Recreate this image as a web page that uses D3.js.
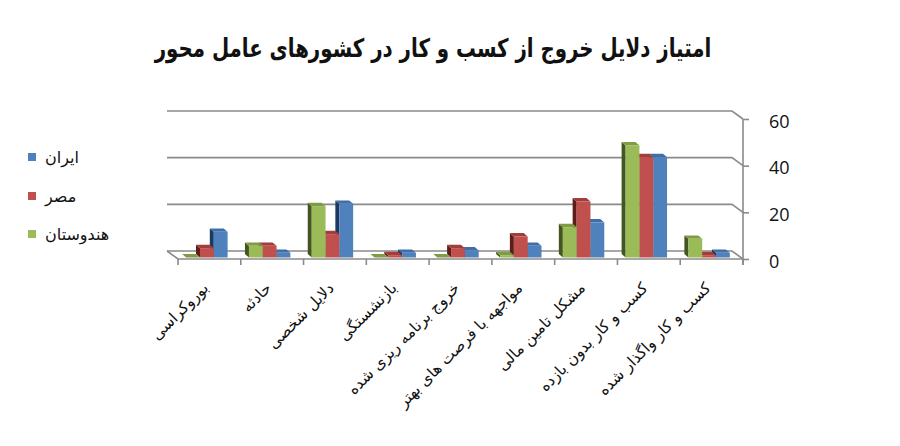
<!DOCTYPE html>
<html>
<head>
<meta charset="utf-8">
<script src="https://cdn.jsdelivr.net/npm/d3@7/dist/d3.min.js"></script>
<style>
  body { margin: 0; background: #fff; }
  svg { display: block; }
</style>
</head>
<body>
<svg id="chart" width="900" height="446"></svg>
<script>
// chart data, categories read left to right
const categories = [
    'بوروکراسی',
    'حادثه',
    'دلایل شخصی',
    'بازنشستگی',
    'خروج برنامه ریزی شده',
    'مواجهه با فرصت های بهتر',
    'مشکل تامین مالی',
    'کسب و کار بدون بازده',
    'کسب و کار واگذار شده'
];
const seriesNames = ['هندوستان', 'مصر', 'ایران'];
const indiaValues = [0, 5, 22, 0, 0, 1, 13, 48, 8];
const egyptValues = [4, 5, 10, 1, 4, 9, 24, 43, 1];
const iranValues = [11, 2, 23, 2, 3, 5, 15, 43, 2];
const yTickValues = [0, 20, 40, 60];
const legendOrder = ['ایران', 'مصر', 'هندوستان'];
const title = 'امتیاز دلایل خروج از کسب و کار در کشورهای عامل محور';

const colors = {
    'ایران': { front: '#4f81bd', top: '#3f6ea8', side: '#1b3a61' },
    'مصر': { front: '#c0504d', top: '#a33d3a', side: '#5e1d1b' },
    'هندوستان': { front: '#9bbb59', top: '#7f9c42', side: '#44561f' }
};

const svg = d3.select('#chart');
const arabicFont = '"DejaVu Sans", sans-serif';

// geometry of the front plane, plus a depth vector to the back wall
const plotLeft = 178, plotRight = 743, plotBottom = 259, plotTop = 119;
const depth = { dx: 11, dy: 8 };

const xScale = d3.scaleBand()
        .domain(categories)
        .range([plotLeft, plotRight])
        .paddingInner(0.34)
        .paddingOuter(0.17);
const xSub = d3.scaleBand()
        .domain(seriesNames)
        .range([0, xScale.bandwidth()]);
const yScale = d3.scaleLinear()
        .domain([0, 60])
        .range([plotBottom, plotTop]);

const gridColor = '#8a8a8a';
const grid = svg.append('g')
        .attr('fill', 'none')
        .attr('stroke', gridColor)
        .attr('stroke-width', 1.6);

const pts = arr => arr.map(p => p.join(',')).join(' ');

// back wall gridlines with the short run to the front axis
yTickValues.forEach(v => {
    const y = yScale(v);
    grid.append('polyline')
            .attr('points', pts([
                [plotLeft - depth.dx, y - depth.dy],
                [plotRight - depth.dx, y - depth.dy],
                [plotRight, y]
            ]));
});

// floor
grid.append('polyline')
        .attr('points', pts([
            [plotLeft - depth.dx, plotBottom - depth.dy],
            [plotLeft, plotBottom],
            [plotRight, plotBottom]
        ]));

// front vertical axis on the right
grid.append('line')
        .attr('x1', plotRight).attr('x2', plotRight)
        .attr('y1', yScale(60)).attr('y2', plotBottom + 6);

const yAxis = d3.axisRight(yScale)
        .tickValues(yTickValues)
        .tickSize(6)
        .tickPadding(20)
        .tickFormat(d3.format('d'));
const yAxisG = svg.append('g')
        .attr('transform', `translate(${plotRight}, 0)`)
        .call(yAxis);
yAxisG.select('.domain').remove();
yAxisG.selectAll('.tick line').attr('stroke', gridColor).attr('stroke-width', 1.6);
yAxisG.selectAll('.tick text')
        .attr('font-family', '"Open Sans", sans-serif')
        .attr('font-size', 18)
        .attr('fill', '#111')
        .attr('dy', '0.45em');

// category ticks under the front edge
const tickXs = d3.range(categories.length + 1)
        .map(i => plotLeft + i * (plotRight - plotLeft) / categories.length);
svg.append('g')
        .selectAll('line')
        .data(tickXs)
        .join('line')
        .attr('x1', d => d).attr('x2', d => d)
        .attr('y1', plotBottom).attr('y2', plotBottom + 6)
        .attr('stroke', gridColor)
        .attr('stroke-width', 1.6);

// bars as simple boxes; drawn right to left so left neighbours hide side faces
const bars = [];
categories.forEach((c, i) => {
    bars.push({ category: c, series: 'هندوستان', value: indiaValues[i] });
    bars.push({ category: c, series: 'مصر', value: egyptValues[i] });
    bars.push({ category: c, series: 'ایران', value: iranValues[i] });
});
bars.reverse();

const frontShift = { dx: -2.5, dy: -1.5 };
const barDepth = { dx: 4, dy: 3.4 };
const barG = svg.append('g');
bars.forEach(b => {
    const x0 = xScale(b.category) + xSub(b.series) + frontShift.dx;
    const x1 = x0 + xSub.bandwidth();
    const yb = yScale(0) + frontShift.dy;
    const yt = yScale(b.value) + frontShift.dy;
    const c = colors[b.series];
    const g = barG.append('g');
    // left side
    g.append('polygon')
            .attr('points', pts([[x0, yb], [x0, yt], [x0 - barDepth.dx, yt - barDepth.dy], [x0 - barDepth.dx, yb - barDepth.dy]]))
            .attr('fill', c.side);
    // top
    g.append('polygon')
            .attr('points', pts([[x0, yt], [x1, yt], [x1 - barDepth.dx, yt - barDepth.dy], [x0 - barDepth.dx, yt - barDepth.dy]]))
            .attr('fill', c.top);
    // front
    g.append('rect')
            .attr('x', x0)
            .attr('y', yt)
            .attr('width', x1 - x0)
            .attr('height', yb - yt)
            .attr('fill', c.front);
});

// rotated category labels
svg.append('g')
        .selectAll('text')
        .data(categories)
        .join('text')
        .attr('transform', d => `translate(${xScale(d) + xScale.bandwidth() / 2}, ${plotBottom + 30}) rotate(-45)`)
        .attr('text-anchor', 'end')
        .attr('font-family', arabicFont)
        .attr('font-size', 15.5)
        .attr('fill', '#111')
        .text(d => d);

// legend
const legend = svg.append('g');
legendOrder.forEach((name, i) => {
    const y = [157, 196, 234][i];
    legend.append('rect')
            .attr('x', 28)
            .attr('y', y - 4)
            .attr('width', 8)
            .attr('height', 8)
            .attr('fill', colors[name].front);
    legend.append('text')
            .attr('x', 45)
            .attr('y', y + 6)
            .attr('font-family', arabicFont)
            .attr('font-size', 16)
            .attr('fill', '#111')
            .text(name);
});

// title, sized to the reference width and stretched a little taller
const titleText = svg.append('text')
        .attr('text-anchor', 'middle')
        .attr('font-family', arabicFont)
        .attr('font-weight', 'bold')
        .attr('font-size', 24)
        .attr('fill', '#111')
        .text(title);
const len = titleText.node().getComputedTextLength();
titleText.attr('font-size', 24 * 557 / len)
        .attr('transform', 'translate(433, 57) scale(1, 1.3)');
</script>
</body>
</html>
